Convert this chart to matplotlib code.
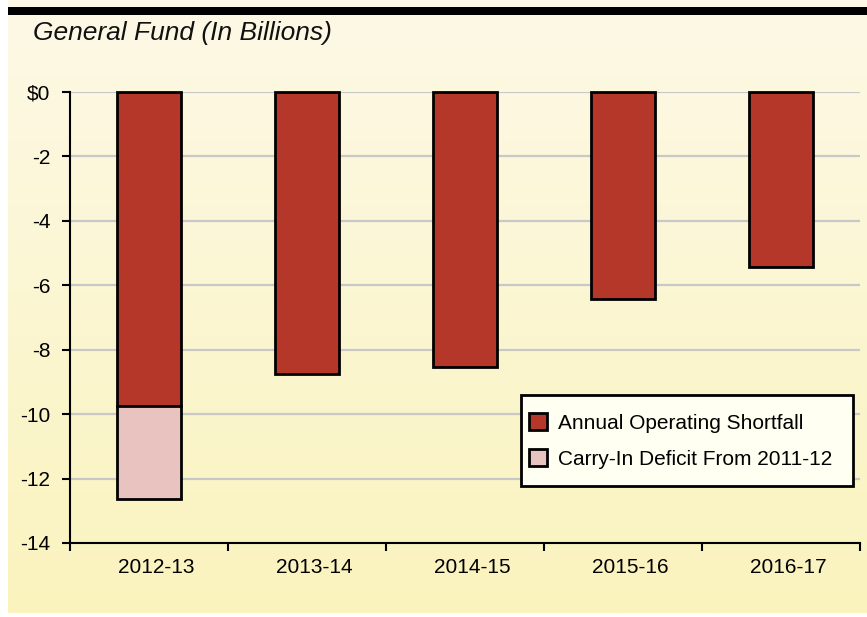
import numpy as np
import matplotlib
matplotlib.use("Agg")
import matplotlib.pyplot as plt
import matplotlib.transforms as mtransforms
from matplotlib.patches import Rectangle

plt.rcParams['font.family'] = ['Liberation Sans', 'DejaVu Sans']

categories = ["2012-13", "2013-14", "2014-15", "2015-16", "2016-17"]
annual_shortfall = [-9.75, -8.75, -8.55, -6.42, -5.42]
carry_in = [-2.87, 0, 0, 0, 0]
yticks = [0, -2, -4, -6, -8, -10, -12, -14]
ytick_labels = ["$0", "-2", "-4", "-6", "-8", "-10", "-12", "-14"]

W, H = 867, 617
fig = plt.figure(figsize=(W / 100, H / 100), dpi=100)
fig.patch.set_facecolor("white")

# gradient background
bg = fig.add_axes([8 / W, 4 / H, 1 - 8 / W, 1 - 4 / H], zorder=0)
grad = np.linspace(0, 1, 256).reshape(-1, 1)
top = np.array([0xFD, 0xF9, 0xE6]) / 255
bot = np.array([0xFA, 0xF3, 0xBE]) / 255
img = top[None, None, :] * (1 - grad[:, :, None]) + bot[None, None, :] * grad[:, :, None]
bg.imshow(img, aspect="auto", extent=[0, 1, 0, 1], origin="upper")
bg.set_axis_off()
# black top bar
fig.patches.append(Rectangle((8 / W, 1 - 15 / H), 1 - 8 / W, 8 / H,
                             transform=fig.transFigure, facecolor="black", edgecolor="none", zorder=1))

fig.text(33 / W, 1 - 33 / H, "General Fund (In Billions)", fontsize=19, style="italic",
         ha="left", va="center", color="#111111")

ax = fig.add_axes([70 / W, (H - 543) / H, (860 - 70) / W, (543 - 92) / H], zorder=2)
ax.patch.set_alpha(0)
x = np.arange(len(categories))
red = "#B5372A"
pink = "#E8C3C0"
b1 = ax.bar(x, annual_shortfall, width=0.4, color=red, edgecolor="black", linewidth=2,
            zorder=3, label="Annual Operating Shortfall", clip_on=False)
b2 = ax.bar(x[:1], carry_in[:1], bottom=annual_shortfall[:1], width=0.4, color=pink,
            edgecolor="black", linewidth=2, zorder=3, label="Carry-In Deficit From 2011-12", clip_on=False)

ax.set_xlim(-0.5, len(categories) - 0.5)
ax.set_ylim(-14, 0)
ax.set_yticks(yticks)
ax.set_yticklabels(ytick_labels, fontsize=15)
ax.set_xticks(x)
ax.set_xticklabels(categories, fontsize=15)
ax.set_xticks(np.arange(-0.5, len(categories), 1.0), minor=True)
ax.tick_params(axis="x", which="major", length=0, pad=11)
ax.tick_params(axis="x", which="minor", length=6, width=1.5, direction="out")
ax.tick_params(axis="y", length=6, width=1.5, direction="out", pad=8)
offset = mtransforms.ScaledTranslation(7 / 100, 0, fig.dpi_scale_trans)
for lbl in ax.get_xticklabels():
    lbl.set_transform(lbl.get_transform() + offset)
for s in ["top", "right"]:
    ax.spines[s].set_visible(False)
for s in ["left", "bottom"]:
    ax.spines[s].set_linewidth(1.5)
ax.yaxis.grid(True, color="#C8C8C8", linewidth=1.6, zorder=0)
ax.set_axisbelow(True)

# legend box
fig.patches.append(Rectangle((521 / W, 1 - 486 / H), (853 - 521) / W, (486 - 395) / H,
                             transform=fig.transFigure, facecolor="#FFFFF2", edgecolor="black",
                             linewidth=2, zorder=4))
leg = fig.legend(handles=[b1, b2], loc="center left", bbox_to_anchor=(529 / W, 1 - 441 / H),
                 fontsize=15, frameon=False, borderaxespad=0, borderpad=0,
                 handlelength=0.87, handleheight=0.87, handletextpad=0.53,
                 labelspacing=0.79)
leg.set_zorder(5)

fig.savefig("out.png", dpi=100)
